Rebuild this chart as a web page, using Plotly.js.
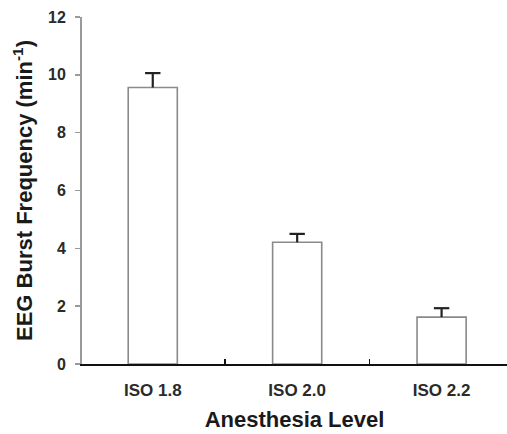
<!DOCTYPE html>
<html>
<head>
<meta charset="utf-8">
<script src="https://cdn.plot.ly/plotly-3.0.1.min.js"></script>
<style>html,body{margin:0;padding:0;background:#fff;}</style>
</head>
<body>
<div id="chart" style="width:507px;height:434px;"></div>
<script>
var categories = ["ISO 1.8", "ISO 2.0", "ISO 2.2"];
var burstFrequency = [9.56, 4.21, 1.62];
var errorUpper = [0.50, 0.29, 0.31];
var yTicks = [0, 2, 4, 6, 8, 10, 12];

var fontFamily = "Liberation Sans, Arial, sans-serif";

// error bar stem (half-error symmetric around the midpoint, no caps)
var stemCenter = burstFrequency.map(function (v, i) { return v + errorUpper[i] / 2; });
var stemHalf = errorUpper.map(function (e) { return e / 2; });
var capY = burstFrequency.map(function (v, i) { return v + errorUpper[i]; });

var bars = {
  type: "bar",
  x: categories,
  y: burstFrequency,
  width: 0.34,
  marker: {color: "#ffffff", line: {color: "#8a8a8a", width: 1.6}},
  hoverinfo: "none"
};

var stems = {
  type: "scatter",
  mode: "markers",
  x: categories,
  y: stemCenter,
  marker: {size: 1, color: "rgba(0,0,0,0)"},
  error_y: {type: "data", symmetric: true, array: stemHalf, color: "#222222", thickness: 2.2, width: 0},
  hoverinfo: "none"
};

var caps = {
  type: "scatter",
  mode: "markers",
  x: categories,
  y: capY,
  marker: {symbol: "line-ew", size: 11, line: {color: "#222222", width: 2.2}},
  hoverinfo: "none"
};

var layout = {
  width: 507,
  height: 434,
  margin: {l: 82, r: 0, t: 17, b: 70},
  paper_bgcolor: "#ffffff",
  plot_bgcolor: "#ffffff",
  showlegend: false,
  font: {family: fontFamily, color: "#222222"},
  xaxis: {
    type: "category",
    range: [-0.49, 2.453],
    showline: true,
    linecolor: "#111111",
    linewidth: 2,
    ticks: "inside",
    tickson: "boundaries",
    ticklen: 5,
    tickwidth: 1.5,
    tickcolor: "#111111",
    showgrid: false,
    zeroline: false,
    ticklabelstandoff: 10,
    tickfont: {family: fontFamily, size: 17, weight: "bold", color: "#2a2a2a"},
    title: {text: "Anesthesia Level", font: {family: fontFamily, size: 22, weight: "bold", color: "#1a1a1a"}, standoff: 12}
  },
  yaxis: {
    range: [0, 12],
    tickvals: yTicks,
    ticktext: yTicks.map(String),
    showline: true,
    linecolor: "#9a9a9a",
    linewidth: 2,
    ticks: "outside",
    ticklen: 5,
    tickwidth: 1.5,
    tickcolor: "#9a9a9a",
    showgrid: false,
    zeroline: false,
    ticklabelstandoff: 6,
    tickfont: {family: fontFamily, size: 16, weight: "bold", color: "#2a2a2a"},
    title: {text: "EEG Burst Frequency (min<sup>-1</sup>)", font: {family: fontFamily, size: 22, weight: "bold", color: "#1a1a1a"}, standoff: 9}
  }
};

Plotly.newPlot("chart", [bars, stems, caps], layout, {displayModeBar: false, staticPlot: true});
</script>
</body>
</html>
